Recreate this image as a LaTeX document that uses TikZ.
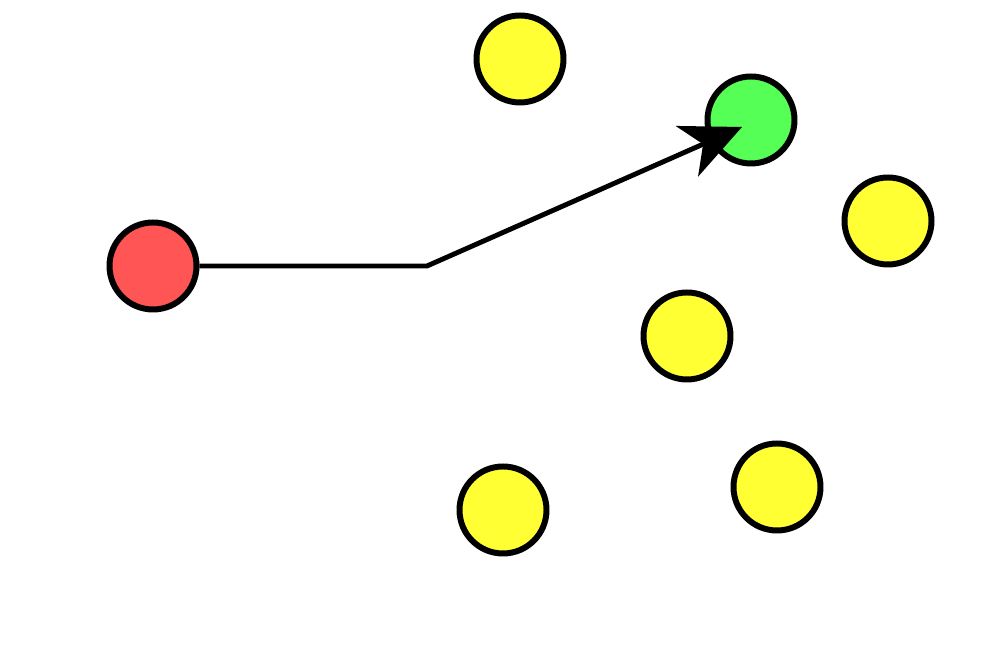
\documentclass[tikz,border=0pt]{standalone}
\usepackage{tikz}
\usetikzlibrary{arrows.meta}
\usepackage{xcolor}
\definecolor{dotred}{HTML}{FF5555}
\definecolor{dotyellow}{HTML}{FFFF33}
\definecolor{dotgreen}{HTML}{55FF55}

\begin{document}
\begin{tikzpicture}[
  dot/.style={circle,draw,line width=3.4pt,minimum size=17.4mm,inner sep=0pt},
  conn/.style={line width=2.8pt,-{Stealth[length=12mm,width=11mm,inset=3.5mm]}}
]
\useasboundingbox (0,0) rectangle (20,13.32);
\node[dot,fill=dotred] (start) at (3.06,8.00) {};
\node[dot,fill=dotyellow] (ya) at (10.40,12.14) {};
\node[dot,fill=dotgreen] (goal) at (15.02,10.92) {};
\node[dot,fill=dotyellow] (yb) at (17.76,8.90) {};
\node[dot,fill=dotyellow] (yc) at (13.74,6.60) {};
\node[dot,fill=dotyellow] (yd) at (10.06,3.12) {};
\node[dot,fill=dotyellow] (ye) at (15.54,3.58) {};
\coordinate (bend) at (8.54,8.00);
\coordinate (tip) at (14.84,10.78);
\draw[conn] (start) -- (bend) -- (tip);
\end{tikzpicture}
\end{document}
